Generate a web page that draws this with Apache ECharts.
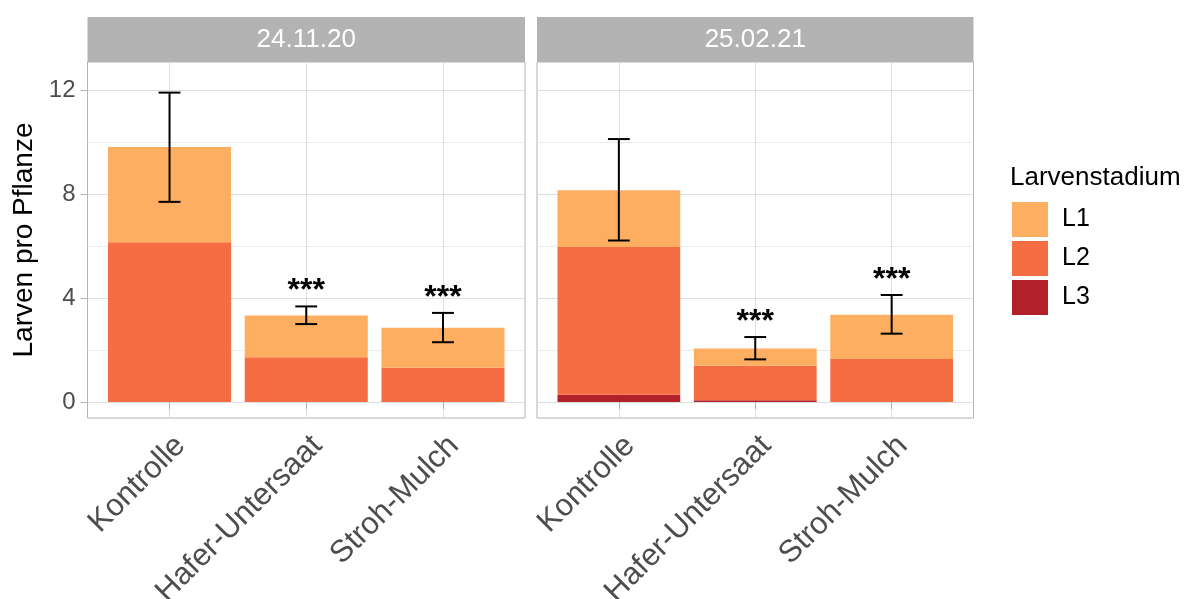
<!DOCTYPE html>
<html>
<head>
<meta charset="utf-8">
<script src="https://cdn.jsdelivr.net/npm/echarts@6/dist/echarts.min.js"></script>
<style>
html,body{margin:0;padding:0;background:#fff;}
#chart{width:1191px;height:599px;}
</style>
</head>
<body>
<div id="chart"></div>
<script>
// ---------- data ----------
const facets = ['24.11.20', '25.02.21'];
const categories = ['Kontrolle', 'Hafer-Untersaat', 'Stroh-Mulch'];
const stages = ['L1', 'L2', 'L3'];
// stacked segment heights per facet (L3 bottom, L2 middle, L1 top)
const L1_p1 = [3.67, 1.61, 1.54];
const L2_p1 = [6.15, 1.72, 1.32];
const L3_p1 = [0.00, 0.00, 0.00];
const L1_p2 = [2.19, 0.67, 1.71];
const L2_p2 = [5.69, 1.33, 1.65];
const L3_p2 = [0.28, 0.06, 0.00];
// error bars (lower, upper)
const errLow_p1 = [7.71, 3.00, 2.30];
const errHigh_p1 = [11.92, 3.68, 3.43];
const errLow_p2 = [6.22, 1.64, 2.63];
const errHigh_p2 = [10.13, 2.50, 4.12];
// significance labels
const sig_p1 = ['', '***', '***'];
const sig_p2 = ['', '***', '***'];
const yTicks = [0, 4, 8, 12];
const yMinor = [2, 6, 10];
const yTitle = 'Larven pro Pflanze';
const legendTitle = 'Larvenstadium';

// ---------- styles ----------
const FONT = "'Liberation Sans', Arial, Helvetica, sans-serif";
const colors = { L1: '#FDAE61', L2: '#F46D43', L3: '#B2202A' };
const gridCol = '#DEDEDE';
const minorCol = '#EBEBEB';
const borderCol = '#B3B3B3';
const panels = [
  { left: 87.5, width: 437.5 },
  { left: 537, width: 436.5 }
];
const panelTop = 62, panelHeight = 356;
const stripTop = 17, stripH = 45;
const xMin = 0.4, xMax = 3.6;
const yMin = -0.62, yMax = 13.1;

const L1s = [L1_p1, L1_p2], L2s = [L2_p1, L2_p2], L3s = [L3_p1, L3_p2];
const errLs = [errLow_p1, errLow_p2], errHs = [errHigh_p1, errHigh_p2];
const sigs = [sig_p1, sig_p2];

const grid = [], xAxis = [], yAxis = [], series = [], graphic = [];

panels.forEach((p, i) => {
  grid.push({ left: p.left, top: panelTop, width: p.width, height: panelHeight,
    show: true, borderColor: borderCol, borderWidth: 1, backgroundColor: 'transparent',
    containLabel: false, outerBoundsMode: 'none' });
  const catIdx = categories.map((c, k) => k + 1);
  xAxis.push({
    type: 'value', gridIndex: i, min: xMin, max: xMax,
    axisLine: { show: false },
    axisTick: { show: true, length: 7, lineStyle: { color: borderCol, width: 1 }, customValues: catIdx },
    axisLabel: { show: true, customValues: catIdx, rotate: 45, margin: 12, verticalAlign: 'top',
      fontSize: 31, color: '#4D4D4D', fontFamily: FONT,
      formatter: v => categories[Math.round(v) - 1] || '' },
    splitLine: { show: true, lineStyle: { color: gridCol, width: 1 } }
  });
  yAxis.push({
    type: 'value', gridIndex: i, min: yMin, max: yMax,
    axisLine: { show: false },
    axisTick: { show: i === 0, length: 7, lineStyle: { color: borderCol, width: 1 }, customValues: yTicks },
    axisLabel: { show: i === 0, customValues: yTicks, margin: 12, fontSize: 24, color: '#4D4D4D', fontFamily: FONT },
    splitLine: { show: true, lineStyle: { color: gridCol, width: 1 } },
    name: i === 0 ? yTitle : '', nameLocation: 'middle', nameGap: 49, nameRotate: 90,
    nameTextStyle: { fontSize: 28, color: '#000', fontFamily: FONT }
  });
  const barW = p.width / (xMax - xMin) * 0.9;
  [['L3', L3s[i]], ['L2', L2s[i]], ['L1', L1s[i]]].forEach(([name, arr]) => {
    series.push({
      name, type: 'bar', xAxisIndex: i, yAxisIndex: i, stack: 'p' + i, barWidth: barW, z: 2,
      itemStyle: { color: colors[name] },
      encode: { x: 1, y: 0 },
      data: arr.map((v, k) => [v, k + 1])
    });
  });
  const lo = errLs[i], hi = errHs[i], sg = sigs[i];
  series.push({
    type: 'custom', xAxisIndex: i, yAxisIndex: i, z: 5, silent: true,
    data: lo.map((v, k) => [k + 1, v, hi[k]]),
    encode: { x: 0, y: [1, 2] },
    renderItem: (params, api) => {
      const x = api.value(0), l = api.value(1), h = api.value(2);
      const a = api.coord([x, l]), b = api.coord([x, h]);
      const hw = api.size([0.16, 0])[0] / 2;
      const st = { stroke: '#000', lineWidth: 2 };
      const children = [
        { type: 'line', shape: { x1: a[0], y1: a[1], x2: b[0], y2: b[1] }, style: st },
        { type: 'line', shape: { x1: a[0] - hw, y1: a[1], x2: a[0] + hw, y2: a[1] }, style: st },
        { type: 'line', shape: { x1: b[0] - hw, y1: b[1], x2: b[0] + hw, y2: b[1] }, style: st }
      ];
      const s = sg[params.dataIndex];
      if (s) children.push({ type: 'text', x: b[0], y: b[1] - 15,
        style: { text: s, fill: '#000', fontSize: 32, fontWeight: 'bold', fontFamily: FONT, align: 'center', verticalAlign: 'middle' } });
      return { type: 'group', children };
    }
  });
  // strip
  graphic.push({ type: 'rect', left: p.left, top: stripTop, shape: { width: p.width, height: stripH },
    style: { fill: '#B3B3B3' }, z: 10 });
  graphic.push({ type: 'text', x: p.left + p.width / 2, y: stripTop + stripH / 2,
    style: { text: facets[i], fill: '#fff', fontSize: 26, fontFamily: FONT, align: 'center', verticalAlign: 'middle' }, z: 11 });
});
// minor grid lines: extra hidden y axes per panel
panels.forEach((p, i) => {
  yAxis.push({
    type: 'value', gridIndex: i, min: yMin, max: yMax, position: 'left',
    axisLine: { show: false }, axisLabel: { show: false },
    axisTick: { show: false, customValues: yMinor },
    splitLine: { show: true, lineStyle: { color: minorCol, width: 1 } }
  });
});

const chart = echarts.init(document.getElementById('chart'), null, { renderer: 'canvas' });
chart.setOption({
  animation: false,
  backgroundColor: '#fff',
  textStyle: { fontFamily: FONT },
  title: { text: legendTitle, left: 1010, top: 165, padding: 0,
    textStyle: { fontSize: 26, fontWeight: 'normal', color: '#000', fontFamily: FONT } },
  legend: {
    data: stages, orient: 'vertical', left: 1012, top: 202, padding: 0,
    itemWidth: 36, itemHeight: 35, itemGap: 4, icon: 'rect',
    textStyle: { fontSize: 25, color: '#000', fontFamily: FONT, padding: [0, 0, 0, 9] },
    selectedMode: false
  },
  grid, xAxis, yAxis, series, graphic
});
</script>
</body>
</html>
